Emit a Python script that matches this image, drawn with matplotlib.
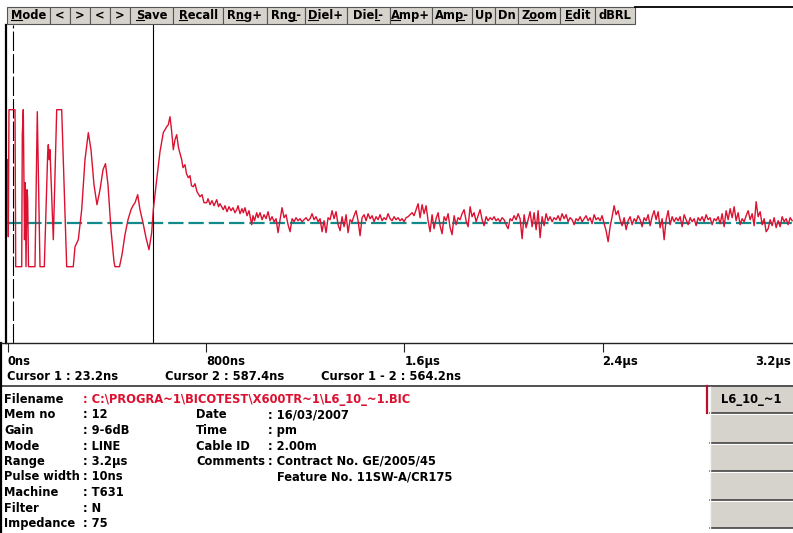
import numpy as np
import matplotlib
matplotlib.use("Agg")
import matplotlib.pyplot as plt
import matplotlib.transforms as mtransforms
from matplotlib.patches import Rectangle
from matplotlib.font_manager import FontProperties

plt.rcParams['lines.scale_dashes'] = False

# ------------------------------------------------------------------ data
# TDR trace: first part (launch / clipped region) as (time ns, amplitude)
head_time_ns = [0, 2.4, 5.2, 29.5, 32.3, 56.5, 58.9, 62.9, 67.8, 71.0, 73.8, 77.9,
                80.7, 83.9, 110.1, 119.4, 130.3, 147.7, 161.4, 163.8, 167.8, 170.6,
                184.0, 197.7, 217.8, 238.0, 264.6, 271.5, 284.8, 298.5, 311.8, 325.2,
                336.0, 348.1, 360.2, 372.4, 384.5, 394.5, 404.6, 416.7, 428.8, 432.9,
                451.0, 461.1, 473.2, 485.3, 497.4, 505.5, 513.6, 524.4, 533.7, 545.8,
                557.9, 570.0, 580.9, 587.4, 601.1, 614.4, 627.7, 641.4, 647.9, 654.7,
                660.8, 668.1, 674.9, 681.8, 689.0, 701.9, 707.2, 715.3, 721.3, 728.6,
                735.5, 741.5, 748.8, 755.6, 763.7, 775.8, 783.9, 792.0, 802.8, 808.1,
                816.1, 824.2, 832.3, 843.2, 850.4, 856.5, 869.8, 876.7, 884.7, 892.8,
                900.9, 908.9, 917.0, 923.9, 929.1, 937.2, 945.2, 950.5, 957.3, 965.4,
                973.5, 984.4, 989.6, 995.7, 1004.5]
head_amp = [63, -14, 113, 113, -44, -44, 88, 113, -17, 40, -44, 33,
            23, -44, -44, 111, -44, -44, 70, 78, 63, 73,
            -17, 113, 113, -44, -44, -24, -17, 13, 63, 90,
            73, 38, 18, 33, 53, 59, 38, -7, -39, -44,
            -44, -32, -12, 3, 13, 17, 20, 28, 13, 0,
            -15, -27, -10, 13, 43, 71, 90, 96, 98, 106,
            93, 73, 83, 88, 75, 63, 55, 58, 49, 45,
            47, 37, 36, 39, 31, 26, 28, 20, 20, 24,
            18, 22, 17, 23, 16, 19, 13, 17, 11, 16,
            12, 15, 10, 13, 17, 9, 14, 10, 15, 7,
            12, -2, 7, 2, 10]

# noisy tail, uniformly sampled
tail_start_ns = 1010.0
tail_step_ns = 8.07
tail_amp = [5, 10, 3, 8, 4, 11, 2, 6, 1, 4,
            -10, 3, 15, 5, 8, -2, -9, 4, 1, 5,
            2, 4, 1, 3, 5, 2, 4, 9, 3, 6,
            1, 4, -9, 2, -10, 5, 3, 12, 4, 11,
            -2, -8, 6, -4, 8, -10, 3, 1, 7, 12,
            2, -13, 5, 8, 2, 9, 4, 7, 1, 6,
            3, 8, 2, 5, 3, 9, 4, 2, 6, 3,
            5, 2, 4, 1, 5, 6, 8, 10, 7, 13,
            19, 5, 18, 9, 17, 2, -9, 8, -6, 4,
            10, -3, -11, 6, 2, 9, -5, -12, 7, -2,
            5, 3, 9, 13, 2, -4, 16, 6, 10, 1,
            7, 13, 3, -3, 6, 2, 5, 3, 6, 2,
            4, 1, 5, 3, -2, -6, 4, 2, 7, 3,
            9, 4, -16, 8, -5, 3, 11, -4, 10, -7,
            12, -15, 6, -3, 9, 2, 6, 1, 5, 3,
            7, 2, 9, 4, 8, 1, 5, 3, -2, 4,
            2, 6, 1, 4, 7, 2, 5, -1, 8, 3,
            5, 2, 7, -1, -8, -19, -4, 6, 17, 8,
            12, 3, -3, 5, -7, 2, 6, -2, 4, 1,
            7, 3, -4, 5, 2, 8, -3, 6, 12, 3,
            11, -5, 4, -17, 3, 12, -2, 6, 1, 5,
            2, 6, -4, 8, 3, -2, 5, 1, 4, -3,
            5, 2, 6, 1, 8, 3, 5, -2, 4, 2,
            6, -1, 9, -4, 12, 3, 14, 5, 16, 2,
            10, -2, 4, 1, 7, 12, 3, 9, -3, 21,
            6, 11, -2, 4, -9, -6, 3, -3, 5, -5,
            2, -4, 6, 1, 4, -2, 5, 2]

cursor1_ns = 23.2
cursor2_ns = 587.4
tick_ns = [0, 800, 1600, 2400, 3200]
tick_labels = ["0ns", "800ns", "1.6\u00b5s", "2.4\u00b5s", "3.2\u00b5s"]

toolbar_labels = ["Mode", "<", ">", "<", ">", "Save", "Recall", "Rng+", "Rng-",
                  "Diel+", "Diel-", "Amp+", "Amp-", "Up", "Dn", "Zoom", "Edit", "dBRL"]
toolbar_underline = [0, None, None, None, None, 0, 0, 1, 2, 0, 3, 0, 2, None, None, 1, 0, None]

info_labels = ["Filename", "Mem no", "Gain", "Mode", "Range", "Pulse width",
               "Machine", "Filter", "Impedance"]
info_values = ["C:\\PROGRA~1\\BICOTEST\\X600TR~1\\L6_10_~1.BIC", "12", "9-6dB", "LINE",
               "3.2\u00b5s", "10ns", "T631", "N", "75"]
info2_labels = ["Date", "Time", "Cable ID", "Comments"]
info2_values = ["16/03/2007", "pm", "2.00m", "Contract No. GE/2005/45"]
comment_line2 = "Feature No. 11SW-A/CR175"
trace_buttons = ["L6_10_~1", "", "", "", ""]

# ------------------------------------------------------------------ layout
W, H = 793, 533
fig = plt.figure(figsize=(W / 100, H / 100), dpi=100)
fig.patch.set_facecolor("white")
ui = fig.add_axes([0, 0, 1, 1])
ui.set_xlim(0, W)
ui.set_ylim(H, 0)
ui.axis("off")

FONT = "DejaVu Sans"
fp_bar = FontProperties(family=FONT, weight="bold", size=8.3)
fp_txt = FontProperties(family=FONT, weight="bold", size=8.3)

RED = "#dc1030"
TEAL = "#12898a"
GREY = "#d6d3cc"

# plot axes (extends a little past the right edge of the window, as in the app)
PL, PR, PT, PB = 6, 812, 25, 343
X0_PX, PX_PER_NS, BASE_PX = 7.7, 198.3 / 800.0, 222.7
ax = fig.add_axes([PL / W, 1 - PB / H, (PR - PL) / W, (PB - PT) / H])
ax.set_zorder(2)
ax.set_facecolor("none")
ax.set_xlim((PL - X0_PX) / PX_PER_NS, (PR - X0_PX) / PX_PER_NS)
ax.set_ylim(BASE_PX - PB, BASE_PX - PT)
for s in ["top", "right"]:
    ax.spines[s].set_visible(False)
ax.spines["left"].set_linewidth(1.6)
ax.spines["bottom"].set_linewidth(1.0)
ax.spines["bottom"].set_color("#222222")
ax.set_yticks([])
ax.set_xticks(tick_ns)
ax.set_xticklabels(tick_labels)
ax.tick_params(axis="x", direction="out", length=6.5, width=0.8, pad=1.8, color="#222222")
labs = ax.get_xticklabels()
for i, lab in enumerate(labs):
    lab.set_fontproperties(fp_txt)
    if i == len(labs) - 1:
        # the window clamps the last label so that it stays inside the window
        lab.set_ha("right")
        lab.set_transform(lab.get_transform() +
                          mtransforms.ScaledTranslation(-0.095, 0, fig.dpi_scale_trans))
    else:
        lab.set_ha("left")

t_tail = tail_start_ns + tail_step_ns * np.arange(len(tail_amp))
t_all = np.concatenate([np.array(head_time_ns), t_tail])
a_all = np.concatenate([np.array(head_amp, dtype=float), np.array(tail_amp, dtype=float)])

ax.axhline(0, color=TEAL, lw=1.6, dashes=(11, 3.6), zorder=1)
ax.plot(t_all, a_all, color=RED, lw=1.0, zorder=3)
ax.axvline(cursor1_ns, color="black", lw=0.8, dashes=(14, 2.2), zorder=2)
ax.axvline(cursor2_ns, color="black", lw=0.8, zorder=2)

# toolbar
fig.canvas.draw()
renderer = fig.canvas.get_renderer()


def text_w(s, fp):
    if not s:
        return 0.0
    w, h, d = renderer.get_text_width_height_descent(s, fp, ismath=False)
    return w


bounds = [7, 50, 70, 90, 110, 130, 173.3, 223.3, 266.7, 305, 346.7, 390, 431.7,
          471.7, 495, 518.3, 560, 595, 635]
for i, lab in enumerate(toolbar_labels):
    l, r = bounds[i], bounds[i + 1]
    ui.add_patch(Rectangle((l, 7), r - l, 17, facecolor=GREY, edgecolor="#555555", lw=0.8))
    w = text_w(lab, fp_bar)
    xl = (l + r) / 2 - w / 2
    ui.text(xl, 15.5, lab, ha="left", va="center", fontproperties=fp_bar, color="black")
    u = toolbar_underline[i]
    if u is not None:
        u0 = xl + text_w(lab[:u], fp_bar)
        u1 = xl + text_w(lab[:u + 1], fp_bar)
        ui.plot([u0, u1], [20.3, 20.3], color="black", lw=0.8)
ui.plot([635, W], [6.5, 6.5], color="black", lw=1.3)

# cursor readouts
ui.text(7, 376, f"Cursor 1 : {cursor1_ns:.1f}ns", fontproperties=fp_txt, va="center")
ui.text(165, 376, f"Cursor 2 : {cursor2_ns:.1f}ns", fontproperties=fp_txt, va="center")
ui.text(321, 376, f"Cursor 1 - 2 : {cursor2_ns - cursor1_ns:.1f}ns",
        fontproperties=fp_txt, va="center")

# frame lines of lower panels
ui.plot([0, W], [385.5, 385.5], color="#333333", lw=1.2)
ui.plot([1, 1], [PB, H], color="black", lw=1.6)
ui.plot([1, PL], [PB, PB], color="#222222", lw=1.0)

# info panel
row0, drow = 399.5, 15.5
for i, (lab, val) in enumerate(zip(info_labels, info_values)):
    y = row0 + i * drow
    ui.text(4, y, lab, fontproperties=fp_txt, va="center")
    ui.text(83, y, ": " + val, fontproperties=fp_txt, va="center",
            color=RED if i == 0 else "black")
for j, (lab, val) in enumerate(zip(info2_labels, info2_values)):
    y = row0 + (j + 1) * drow
    ui.text(196, y, lab, fontproperties=fp_txt, va="center")
    ui.text(268, y, ": " + val, fontproperties=fp_txt, va="center")
ui.text(277, row0 + 5 * drow, comment_line2, fontproperties=fp_txt, va="center")

# trace selection buttons
btn_tops = [387, 415, 445, 473, 502]
btn_h = [26, 28, 26, 27, 26]
for k, lab in enumerate(trace_buttons):
    y0 = btn_tops[k]
    ui.add_patch(Rectangle((710, y0), W - 710, btn_h[k], facecolor=GREY, edgecolor="none"))
    ui.plot([710, W], [y0 + btn_h[k], y0 + btn_h[k]], color="#444444", lw=1.2)
    ui.plot([710, 710], [y0, y0 + btn_h[k]], color="#f4f4f4", lw=1.0)
    if lab:
        ui.text(751, y0 + btn_h[k] / 2, lab, fontproperties=fp_txt, ha="center", va="center")
ui.plot([707, 707], [386, 413], color="#b8102c", lw=1.6)

fig.savefig("out.png", dpi=100, facecolor="white")
